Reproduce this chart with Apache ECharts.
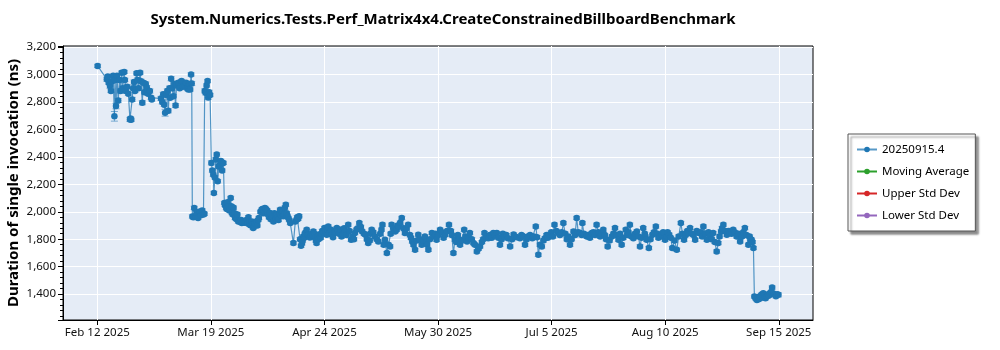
<!DOCTYPE html>
<html><head><meta charset="utf-8">
<script src="https://cdn.jsdelivr.net/npm/echarts@6/dist/echarts.min.js"></script>
<style>html,body{margin:0;padding:0;background:#fff}#chart{width:1000px;height:350px}</style>
</head><body><div id="chart"></div>
<script>
const chartTitle = 'System.Numerics.Tests.Perf_Matrix4x4.CreateConstrainedBillboardBenchmark';
const yAxisTitle = 'Duration of single invocation (ns)';
const seriesNames = ['20250915.4', 'Moving Average', 'Upper Std Dev', 'Lower Std Dev'];
const startDate = '2025-02-12';
const xTickLabels = ['Feb 12 2025', 'Mar 19 2025', 'Apr 24 2025', 'May 30 2025', 'Jul 5 2025', 'Aug 10 2025', 'Sep 15 2025'];
const xTickStepDays = 35.85;

// days since startDate
const dayOffsets = [
  0.1, 3.0, 3.3, 3.6, 4.0, 4.3, 4.6, 5.0, 5.4, 5.6,
  5.9, 6.2, 6.6, 7.0, 7.3, 7.7, 8.0, 8.5, 8.7, 9.0,
  9.4, 9.8, 10.3, 10.5, 10.7, 11.0, 11.3, 11.6, 11.9, 12.4,
  12.7, 13.0, 13.5, 13.8, 14.2, 14.5, 14.9, 15.3, 15.6, 16.0,
  16.6, 17.0, 17.2, 20.1, 20.5, 20.8, 21.1, 21.4, 21.8, 22.1,
  22.4, 22.8, 23.0, 23.3, 23.6, 24.0, 24.3, 24.7, 25.0, 25.6,
  26.0, 26.6, 27.0, 27.7, 28.0, 28.4, 28.7, 29.0, 29.3, 29.6,
  29.8, 30.0, 30.3, 30.6, 31.0, 31.4, 31.8, 32.2, 32.7, 33.1,
  33.5, 33.8, 33.9, 34.2, 34.5, 34.8, 35.0, 35.3, 35.6, 36.0,
  36.3, 36.6, 36.8, 37.1, 37.4, 37.7, 38.0, 38.3, 38.7, 39.0,
  39.4, 39.8, 40.1, 40.5, 40.9, 41.3, 42.1, 42.5, 43.0, 43.5,
  44.2, 44.5, 45.2, 45.6, 46.4, 47.2, 47.7, 48.2, 48.8, 49.2,
  49.8, 50.5, 51.0, 51.9, 52.4, 52.9, 53.6, 54.5, 55.0, 55.6,
  56.2, 56.6, 57.2, 57.7, 58.3, 58.7, 59.5, 60.0, 60.3, 60.9,
  61.9, 62.9, 63.4, 63.7, 64.3, 64.8, 65.0, 65.5, 66.1, 66.7,
  67.1, 67.7, 68.2, 68.8, 69.2, 69.8, 70.3, 70.7, 71.7, 72.4,
  72.9, 73.5, 74.0, 74.8, 75.6, 76.3, 77.1, 78.2, 79.2, 80.1,
  81.3, 82.7, 83.6, 84.7, 85.5, 86.6, 87.6, 88.7, 90.0, 90.8,
  91.4, 92.4, 92.9, 94.0, 95.2, 96.1, 97.1, 98.1, 99.4, 100.3,
  101.3, 102.4, 103.4, 104.5, 105.6, 107.1, 108.2, 109.8, 111.0, 112.4,
  112.9, 114.5, 115.8, 116.7, 117.6, 118.7, 119.8, 120.8, 122.2, 123.4,
  125.0, 126.1, 127.1, 128.5, 129.6, 130.3, 131.9, 133.4, 135.0, 136.0,
  137.3, 138.4, 139.2, 140.3, 141.3, 142.6, 144.3, 145.5, 147.1, 148.2,
  149.2, 150.3, 151.3, 152.4, 153.1, 154.5, 156.1, 157.6, 158.7, 159.7,
  161.1, 162.4, 163.4, 164.5, 165.5, 166.8, 168.1, 169.2, 170.3, 171.3,
  172.3, 173.4, 174.1, 175.2, 176.3, 177.6, 179.2, 180.5, 181.5, 182.9,
  184.2, 185.2, 186.6, 187.1, 188.7, 189.9, 191.3, 192.4, 193.4, 194.4,
  195.5, 196.0, 196.9, 197.6, 198.7, 199.7, 200.7, 201.8, 202.9, 204.4,
  205.5, 206.5, 207.1, 207.4, 208.2, 209.2, 210.2, 211.3, 212.3, 213.0,
  213.9, 215.0
];

// duration (ns)
const durations = [
  3062, 2965, 2985, 2940, 2915, 2880, 2950, 2990, 2695, 2960,
  2770, 2990, 2810, 2960, 2880, 3013, 2900, 3018, 2960, 2879,
  2910, 2860, 2672, 2680, 2670, 2818, 2900, 2944, 2880, 3008,
  2960, 2900, 3013, 2950, 2794, 2940, 2870, 2930, 2904, 2860,
  2879, 2830, 2818, 2825, 2800, 2855, 2780, 2721, 2850, 2880,
  2735, 2900, 2830, 2969, 2900, 2842, 2930, 2774, 2920, 2940,
  2900, 2952, 2910, 2915, 2940, 2900, 2891, 2930, 2890, 3000,
  2934, 1966, 1960, 2028, 1970, 1990, 1955, 2000, 1975, 2010,
  1980, 1985, 2880, 2866, 2920, 2952, 2832, 2870, 2850, 2356,
  2300, 2270, 2137, 2250, 2380, 2417, 2222, 2330, 2340, 2370,
  2300, 2356, 2064, 2045, 2020, 2040, 2101, 1991, 2030, 1955,
  1980, 1930, 1925, 1918, 1920, 1942, 1960, 1906, 1930, 1882,
  1918, 1900, 1955, 2015, 1990, 2028, 2010, 1991, 1950, 1930,
  1970, 1978, 1940, 2015, 1990, 1967, 2052, 1970, 1955, 1918,
  1772, 1942, 1950, 1967, 1752, 1790, 1820, 1840, 1869, 1830,
  1812, 1840, 1857, 1810, 1772, 1800, 1820, 1840, 1882, 1832,
  1893, 1860, 1833, 1850, 1881, 1840, 1820, 1857, 1906, 1796,
  1845, 1918, 1857, 1833, 1772, 1869, 1820, 1784, 1906, 1796,
  1699, 1748, 1906, 1857, 1893, 1955, 1845, 1906, 1784, 1723,
  1833, 1760, 1820, 1723, 1845, 1796, 1869, 1833, 1906, 1699,
  1796, 1760, 1869, 1784, 1845, 1772, 1711, 1748, 1845, 1808,
  1845, 1845, 1760, 1820, 1808, 1748, 1820, 1808, 1760, 1820,
  1808, 1893, 1687, 1748, 1808, 1833, 1906, 1845, 1918, 1800,
  1760, 1857, 1955, 1845, 1918, 1820, 1845, 1906, 1820, 1869,
  1748, 1820, 1881, 1796, 1760, 1869, 1906, 1808, 1857, 1748,
  1881, 1796, 1736, 1833, 1893, 1820, 1796, 1833, 1736, 1723,
  1918, 1796, 1845, 1881, 1796, 1845, 1893, 1796, 1820, 1845,
  1711, 1772, 1857, 1906, 1833, 1845, 1869, 1820, 1784, 1881,
  1760, 1796, 1736, 1383, 1358, 1383, 1407, 1383, 1407, 1448,
  1395, 1395
];

// error bar half-height (ns)
const errorMargins = [
  12, 15, 12, 12, 15, 12, 15, 12, 35, 15,
  20, 15, 15, 15, 15, 12, 15, 12, 12, 15,
  15, 12, 15, 12, 12, 15, 15, 15, 12, 12,
  15, 15, 12, 15, 15, 15, 12, 15, 15, 12,
  15, 12, 12, 15, 15, 15, 12, 25, 15, 15,
  15, 15, 12, 15, 15, 12, 15, 15, 15, 15,
  12, 12, 15, 15, 12, 15, 12, 12, 12, 12,
  15, 12, 12, 12, 12, 12, 12, 12, 12, 12,
  12, 12, 15, 15, 12, 12, 15, 15, 12, 15,
  12, 12, 12, 12, 15, 12, 12, 12, 12, 12,
  12, 12, 12, 12, 12, 12, 12, 12, 12, 12,
  12, 12, 12, 12, 12, 12, 12, 12, 12, 12,
  12, 12, 12, 12, 12, 12, 12, 12, 12, 12,
  12, 12, 12, 12, 12, 12, 12, 12, 12, 12,
  12, 12, 12, 12, 12, 12, 12, 12, 12, 12,
  12, 12, 12, 12, 12, 12, 12, 12, 12, 12,
  12, 12, 12, 12, 12, 12, 12, 12, 12, 12,
  12, 12, 12, 12, 12, 12, 12, 12, 12, 12,
  12, 12, 12, 12, 12, 12, 12, 12, 12, 12,
  12, 12, 12, 12, 12, 12, 12, 12, 12, 12,
  12, 12, 12, 12, 12, 12, 12, 12, 12, 12,
  12, 12, 12, 12, 12, 12, 12, 12, 12, 12,
  12, 12, 12, 12, 12, 12, 12, 12, 12, 12,
  12, 12, 12, 12, 12, 12, 12, 12, 12, 12,
  12, 12, 12, 12, 12, 12, 12, 12, 12, 12,
  12, 12, 12, 12, 12, 12, 12, 12, 12, 12,
  12, 12, 12, 12, 12, 12, 12, 12, 12, 12,
  12, 12, 12, 12, 12, 12, 12, 12, 12, 12,
  12, 12, 12, 12, 12, 12, 12, 12, 12, 12,
  12, 15
];

// additional runs inside the dense band (days since startDate, duration ns)
const extraDayOffsets = [
  40.3, 40.7, 41.1, 41.7, 42.3, 42.8, 43.3, 43.8, 44.0, 44.8,
  45.4, 46.0, 46.8, 47.5, 48.0, 48.5, 49.0, 49.5, 50.2, 50.8,
  51.5, 52.1, 52.6, 53.2, 53.9, 54.2, 54.8, 55.3, 55.9, 56.4,
  56.9, 57.5, 58.0, 58.5, 59.0, 59.2, 59.8, 60.6,
  62.5, 63.1, 64.0, 64.6, 65.3, 65.8, 66.4, 67.4, 68.0, 68.5,
  69.0, 69.5, 70.0, 70.5, 71.0, 71.3, 72.0, 72.6,
  73.2, 73.8, 74.4, 75.2, 75.9, 76.7, 77.5, 77.9, 78.7, 79.6,
  80.6, 81.0, 81.8, 82.2, 83.2, 84.2, 85.1, 86.0, 86.2, 87.1,
  88.2, 89.3, 89.7, 90.4, 91.9, 92.6, 93.4, 94.5, 94.8, 95.6,
  96.6, 97.6, 98.7, 99.0, 99.8, 100.8, 101.8, 102.9, 103.9, 104.1,
  105.0, 106.3, 106.7, 107.6, 108.8, 109.3, 110.4, 111.6, 111.9,
  113.3, 113.8, 114.2, 115.1, 116.2, 117.1, 118.2, 119.2, 120.3, 121.4,
  121.8, 122.7, 123.9, 124.5, 125.5, 126.6, 127.6, 128.0, 129.1, 130.9,
  131.4, 132.5, 133.9, 134.5, 135.5, 136.6, 137.8, 138.8, 139.7, 140.8,
  141.8, 142.2, 143.3, 143.8, 144.9, 146.0, 146.6, 147.7,
  148.7, 149.7, 150.8, 151.8, 152.9, 153.6, 155.0, 155.5, 156.6, 157.1,
  158.2, 159.2, 160.2, 160.6, 161.7, 162.9, 163.9, 165.0, 166.0, 167.3,
  167.6, 168.6, 169.7, 170.8, 171.8, 172.8, 173.0, 174.6, 175.7, 176.8,
  177.1, 178.2, 178.6, 179.7, 180.0, 181.0, 182.2, 183.5, 184.7, 185.7, 186.2,
  187.6, 188.2, 189.2, 190.5, 190.9, 191.9, 192.9, 193.9, 194.9, 196.4,
  197.2, 198.2, 199.2, 200.2, 201.2, 202.3, 203.5, 203.9, 204.9, 205.9,
  206.2, 206.8,
  207.8, 208.6, 208.9, 209.6, 209.9, 210.6, 210.9, 211.7, 212.0, 212.7,
  213.4, 214.2, 214.6
];
const extraDurations = [
  2050, 2030, 2070, 2010, 2040, 1980, 1990, 1960, 1945, 1935,
  1940, 1925, 1930, 1915, 1925, 1900, 1910, 1895, 1930, 1940,
  2000, 2020, 2005, 2020, 1980, 1960, 1945, 1960, 1990, 1945,
  1960, 1985, 1975, 2000, 1985, 2030, 1990, 1940,
  1930, 1960, 1800, 1770, 1810, 1850, 1835, 1825, 1830, 1840,
  1790, 1820, 1835, 1810, 1860, 1850, 1860, 1870,
  1845, 1870, 1815, 1850, 1860, 1870, 1835, 1880, 1830, 1860,
  1820, 1800, 1870, 1880, 1890, 1840, 1800, 1790, 1840, 1850,
  1800, 1840, 1870, 1760, 1760, 1840, 1880, 1870, 1900, 1920,
  1880, 1880, 1830, 1810, 1760, 1790, 1800, 1790, 1780, 1760,
  1800, 1820, 1840, 1830, 1850, 1810, 1860, 1860, 1830,
  1780, 1830, 1800, 1790, 1820, 1810, 1800, 1760, 1730, 1780,
  1800, 1820, 1830, 1810, 1825, 1810, 1800, 1840, 1830, 1800,
  1835, 1815, 1830, 1820, 1800, 1830, 1820, 1815, 1760, 1790,
  1830, 1810, 1850, 1820, 1860, 1830, 1850, 1840,
  1820, 1800, 1830, 1850, 1830, 1840, 1830, 1810, 1850, 1830,
  1850, 1840, 1830, 1800, 1790, 1840, 1830, 1840, 1810, 1830,
  1850, 1820, 1840, 1820, 1810, 1840, 1820, 1800, 1850, 1840,
  1810, 1830, 1850, 1820, 1850, 1810, 1790, 1820, 1840, 1830, 1860,
  1840, 1830, 1860, 1850, 1820, 1840, 1850, 1800, 1780, 1820,
  1880, 1860, 1860, 1840, 1850, 1840, 1820, 1850, 1830, 1820,
  1800, 1780,
  1370, 1380, 1365, 1395, 1375, 1390, 1370, 1395, 1390, 1415,
  1405, 1385, 1400
];
const extraErrorMargin = 12;

const FONT = 'Noto Sans';
const mainColor = '#1f77b4';
const allPoints = dayOffsets.map((d, i) => [d, durations[i], errorMargins[i]])
  .concat(extraDayOffsets.map((d, i) => [d, extraDurations[i], extraErrorMargin]))
  .sort((a, b) => a[0] - b[0]);
const mainData = allPoints.map(p => [p[0], p[1]]);
const errData = allPoints.map(p => [p[0], p[1] - p[2], p[1] + p[2]]);

const chart = echarts.init(document.getElementById('chart'), null, { renderer: 'canvas' });
chart.setOption({
  animation: false,
  backgroundColor: '#ffffff',
  title: {
    text: chartTitle, left: 438, top: 7, textAlign: 'center',
    textStyle: { fontFamily: FONT, fontWeight: 'bold', fontSize: 15, color: '#000' }
  },
  grid: {
    left: 63, right: 187, top: 46, bottom: 30, show: true, containLabel: false, outerBoundsMode: 'none',
    backgroundColor: '#E5ECF6', borderColor: '#000', borderWidth: 1
  },
  legend: {
    data: seriesNames, orient: 'vertical', left: 848, top: 134,
    backgroundColor: '#fff', borderColor: '#555', borderWidth: 1,
    padding: [9, 6, 9, 8], itemGap: 9, itemWidth: 20, itemHeight: 7,
    shadowColor: 'rgba(0,0,0,0.45)', shadowOffsetX: 3, shadowOffsetY: 3, shadowBlur: 2,
    textStyle: { fontFamily: FONT, fontSize: 11.5, color: '#000', lineHeight: 13 }
  },
  xAxis: {
    type: 'value', min: -10.83, max: 225.9, splitNumber: 6,
    minInterval: xTickStepDays, maxInterval: xTickStepDays,
    axisLine: { show: true, onZero: false, lineStyle: { color: '#000' } },
    axisTick: { show: true, length: 5, lineStyle: { color: '#000' } },
    axisLabel: {
      showMinLabel: false, showMaxLabel: false, interval: 0,
      fontFamily: FONT, fontSize: 11.5, color: '#111', margin: 7,
      formatter: v => xTickLabels[Math.round(v / xTickStepDays)] || ''
    },
    splitLine: { show: true, showMinLine: false, showMaxLine: false, lineStyle: { color: '#fff', width: 1 } }
  },
  yAxis: {
    type: 'value', min: 1212, max: 3207,
    minInterval: 200, maxInterval: 200,
    name: yAxisTitle, nameLocation: 'middle', nameGap: 42, nameRotate: 90, nameMoveOverlap: false,
    nameTextStyle: { fontFamily: FONT, fontWeight: 'bold', fontSize: 15, color: '#000' },
    axisLine: { show: true, onZero: false, lineStyle: { color: '#000' } },
    axisTick: { show: true, length: 5, lineStyle: { color: '#000' } },
    minorTick: { show: true, splitNumber: 5, length: 3, lineStyle: { color: '#000' } },
    axisLabel: {
      showMinLabel: false, showMaxLabel: false,
      fontFamily: FONT, fontSize: 11.5, color: '#111', margin: 7,
      formatter: v => v.toLocaleString('en-US')
    },
    splitLine: { show: true, showMinLine: false, showMaxLine: false, lineStyle: { color: '#fff', width: 1 } }
  },
  series: [
    {
      name: seriesNames[0], type: 'line', data: mainData, z: 4,
      symbol: 'circle', symbolSize: 6.5, showSymbol: true,
      itemStyle: { color: mainColor },
      lineStyle: { color: mainColor, width: 1.2, opacity: 0.75 }
    },
    {
      name: 'errors', type: 'custom', data: errData, z: 3,
      encode: { x: 0, y: [1, 2] },
      renderItem: (params, api) => {
        const x = api.value(0);
        const lo = api.coord([x, api.value(1)]);
        const hi = api.coord([x, api.value(2)]);
        const w = 3.5;
        const style = { stroke: mainColor, lineWidth: 1, opacity: 0.55 };
        return {
          type: 'group', children: [
            { type: 'line', shape: { x1: lo[0], y1: lo[1], x2: hi[0], y2: hi[1] }, style },
            { type: 'line', shape: { x1: lo[0] - w, y1: lo[1], x2: lo[0] + w, y2: lo[1] }, style },
            { type: 'line', shape: { x1: hi[0] - w, y1: hi[1], x2: hi[0] + w, y2: hi[1] }, style }
          ]
        };
      }
    },
    { name: seriesNames[1], type: 'line', data: [], symbol: 'circle', itemStyle: { color: '#2ca02c' }, lineStyle: { color: '#2ca02c' } },
    { name: seriesNames[2], type: 'line', data: [], symbol: 'circle', itemStyle: { color: '#d62728' }, lineStyle: { color: '#d62728' } },
    { name: seriesNames[3], type: 'line', data: [], symbol: 'circle', itemStyle: { color: '#9467bd' }, lineStyle: { color: '#9467bd' } }
  ]
});
</script></body></html>
